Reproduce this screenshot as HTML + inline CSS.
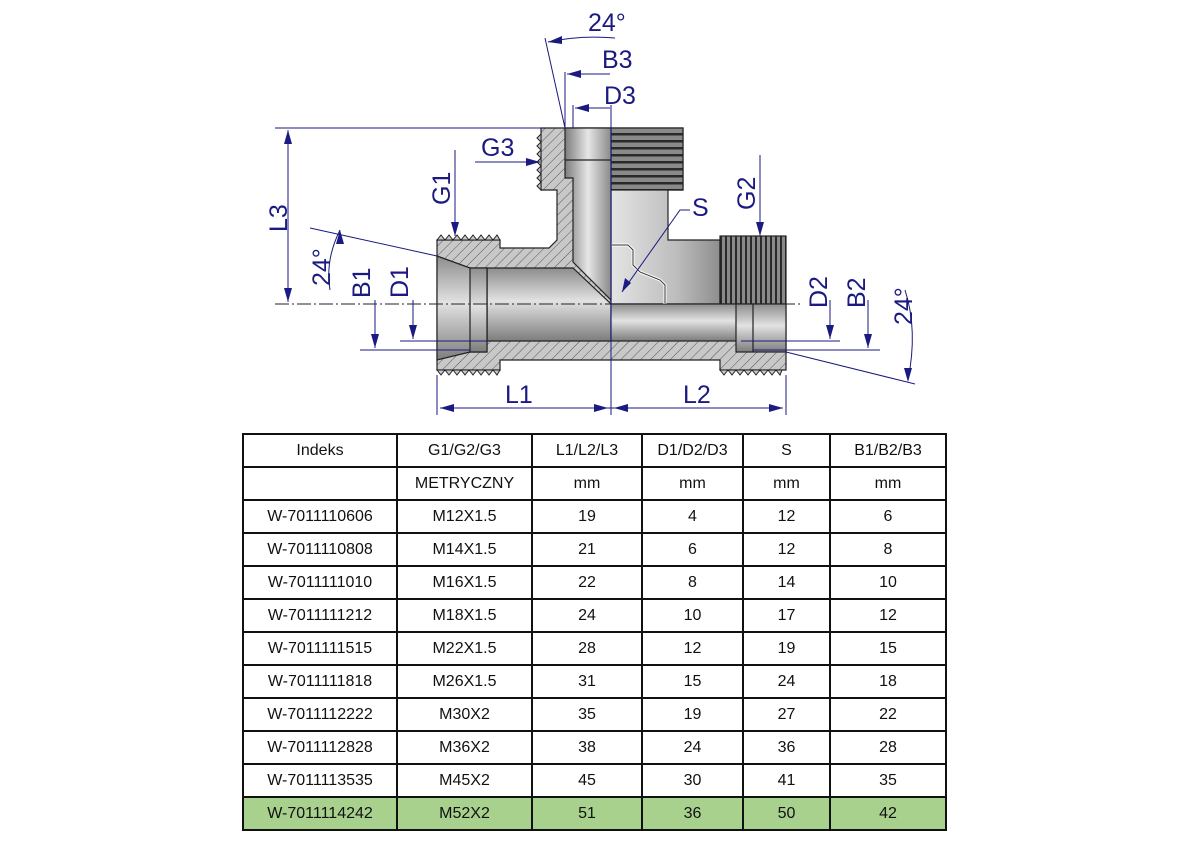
<!DOCTYPE html>
<html><head><meta charset="utf-8"><style>
html,body{margin:0;padding:0;background:#fff;width:1191px;height:842px;overflow:hidden;position:relative;font-family:"Liberation Sans",sans-serif}
svg{position:absolute;left:0;top:0}
table{position:absolute;left:242px;top:433px;border-collapse:collapse;font-size:16px;color:#111}
td{border:2px solid #111;height:31px;padding:0;text-align:center;vertical-align:middle}
tr.g td{background:#a9d18e}
</style></head><body>
<svg width="1191" height="430" viewBox="0 0 1191 430">
<defs>
<pattern id="h" width="7" height="7" patternUnits="userSpaceOnUse" patternTransform="rotate(45)">
<rect width="7" height="7" fill="#c8c8c8"/><line x1="0" y1="0" x2="0" y2="7" stroke="#555" stroke-width="1"/></pattern>
<pattern id="tv" width="5" height="10" patternUnits="userSpaceOnUse">
<rect width="5" height="10" fill="#8a8a8a"/><rect width="2" height="10" fill="#2a2a2a"/></pattern>
<pattern id="thz" width="10" height="7" patternUnits="userSpaceOnUse">
<rect width="10" height="7" fill="#8a8a8a"/><rect width="10" height="2.5" fill="#2a2a2a"/></pattern>
<linearGradient id="bv" x1="0" y1="0" x2="0" y2="1"><stop offset="0" stop-color="#8d8d8d"/><stop offset=".45" stop-color="#e2e2e2"/><stop offset="1" stop-color="#7d7d7d"/></linearGradient>
<linearGradient id="bh" x1="0" y1="0" x2="1" y2="0"><stop offset="0" stop-color="#7d7d7d"/><stop offset=".5" stop-color="#e6e6e6"/><stop offset="1" stop-color="#8a8a8a"/></linearGradient>
<linearGradient id="ex" x1="0" y1="0" x2="1" y2="0"><stop offset="0" stop-color="#e4e4e4"/><stop offset=".6" stop-color="#bdbdbd"/><stop offset="1" stop-color="#8e8e8e"/></linearGradient>
</defs>
<g stroke="#222" stroke-width="1.2">
<polygon points="437,240 500,240 500,248 549,248 557,240 557,190 541,190 541,128 611,128 611,304 437,304" fill="url(#h)"/>
<polygon points="437,304 786,304 786,370 720,370 720,360 500,360 500,370 437,370" fill="url(#h)"/>
<polygon points="611,128 683,128 683,190 668,190 668,240 720,240 720,304 611,304" fill="url(#ex)"/>
<rect x="611" y="128" width="72" height="62" fill="url(#thz)"/>
<rect x="720" y="236" width="66" height="68" fill="url(#tv)"/>
<polygon points="565,128 611,128 611,300 573,262 573,178 565,178" fill="url(#bh)"/>
<line x1="565" y1="160" x2="611" y2="160"/>
<polygon points="487,268 573,268 611,304 611,341 487,341" fill="url(#bv)"/>
<rect x="611" y="304" width="130" height="37" fill="url(#bv)"/>
<polygon points="437,256 470,268 487,268 487,352 470,352 437,360" fill="url(#bv)"/>
<rect x="470" y="268" width="17" height="84" fill="url(#bv)"/>
<rect x="736" y="304" width="50" height="48" fill="url(#bv)"/>
<line x1="753" y1="304" x2="753" y2="352"/>
<polyline points="611,245 628,245 633,250 633,265 640,272 660,280 665,285 665,304" fill="none" stroke="#fff" stroke-width="3"/>
<polyline points="611,245 628,245 633,250 633,265 640,272 660,280 665,285 665,304" fill="none" stroke="#333" stroke-width="1"/>
</g>
<g fill="#c8c8c8" stroke="#222" stroke-width="1">
<path d="M437,240 l4,-5 l4,5 l4,-5 l4,5 l4,-5 l4,5 l4,-5 l4,5 l4,-5 l4,5 l4,-5 l4,5 l4,-5 l4,5 l4,-5 l3,5z"/>
<path d="M437,370 l4,5 l4,-5 l4,5 l4,-5 l4,5 l4,-5 l4,5 l4,-5 l4,5 l4,-5 l4,5 l4,-5 l4,5 l4,-5 l4,5 l3,-5z"/>
<path d="M720,370 l4,5 l4,-5 l4,5 l4,-5 l4,5 l4,-5 l4,5 l4,-5 l4,5 l4,-5 l4,5 l4,-5 l4,5 l4,-5 l4,5 l2,-5z"/>
<path d="M541,134 l-4,4 l4,4 l-4,4 l4,4 l-4,4 l4,4 l-4,4 l4,4 l-4,4 l4,4 l-4,4 l4,4 l-4,4 l4,4z"/>
</g>
<g stroke="#223" stroke-width="1" fill="none">
<line x1="611" y1="105" x2="611" y2="415" stroke="#1a1a80"/>
<line x1="275" y1="304" x2="800" y2="304" stroke-dasharray="14,3,2,3"/>
</g>
<g stroke="#1a1a80" stroke-width="1" fill="none">
<line x1="275" y1="128" x2="541" y2="128"/>
<line x1="288" y1="130" x2="288" y2="302"/>
<line x1="437" y1="375" x2="437" y2="415"/><line x1="786" y1="375" x2="786" y2="415"/>
<line x1="440" y1="408" x2="783" y2="408"/>
<line x1="360" y1="350" x2="470" y2="350"/><line x1="400" y1="341" x2="487" y2="341"/>
<line x1="375" y1="300" x2="375" y2="348"/><line x1="413" y1="300" x2="413" y2="339"/>
<line x1="753" y1="350" x2="880" y2="350"/><line x1="741" y1="341" x2="840" y2="341"/>
<line x1="830" y1="300" x2="830" y2="339"/><line x1="868" y1="300" x2="868" y2="348"/>
<line x1="455" y1="150" x2="455" y2="236"/><line x1="760" y1="155" x2="760" y2="236"/>
<line x1="475" y1="162" x2="540" y2="162"/>
<line x1="565" y1="72" x2="565" y2="128"/><line x1="567" y1="74" x2="610" y2="74"/>
<line x1="573" y1="105" x2="573" y2="128"/><line x1="575" y1="108" x2="610" y2="108"/>
<line x1="545" y1="38" x2="565" y2="128"/><path d="M548,42 Q580,35 615,38"/>
<line x1="310" y1="228" x2="437" y2="256"/><path d="M340,230 Q325,260 330,290"/>
<line x1="786" y1="352" x2="915" y2="384"/><path d="M905,290 Q918,330 908,380"/>
<polyline points="690,210 680,210 622,292"/>
</g>
<g fill="#1a1a80">
<path d="M288,130 l-4,14 h8z"/><path d="M288,302 l-4,-14 h8z"/>
<path d="M440,408 l14,-4 v8z"/><path d="M608,408 l-14,-4 v8z"/><path d="M614,408 l14,-4 v8z"/><path d="M783,408 l-14,-4 v8z"/>
<path d="M375,348 l-4,-14 h8z"/><path d="M413,339 l-4,-14 h8z"/><path d="M830,339 l-4,-14 h8z"/><path d="M868,348 l-4,-14 h8z"/>
<path d="M455,236 l-4,-14 h8z"/><path d="M760,236 l-4,-14 h8z"/><path d="M540,162 l-14,-4 v8z"/>
<path d="M567,74 l14,-4 v8z"/><path d="M575,108 l14,-4 v8z"/><path d="M548,42 l14,-6 v8z"/>
<path d="M340,230 l-4,14 h8z"/><path d="M908,382 l-4,-14 h8z"/><path d="M622,292 l3,-14 l6,5z"/>
</g>
<g fill="#1a1a80" font-family="Liberation Sans,sans-serif" font-size="25">
<text x="588" y="31">24°</text><text x="602" y="68">B3</text><text x="604" y="104">D3</text>
<text x="481" y="156">G3</text><text x="692" y="216">S</text>
<text x="505" y="403">L1</text><text x="683" y="403">L2</text>
<text transform="translate(450,205) rotate(-90)">G1</text>
<text transform="translate(755,210) rotate(-90)">G2</text>
<text transform="translate(287,232) rotate(-90)">L3</text>
<text transform="translate(330,286) rotate(-90)">24°</text>
<text transform="translate(370,298) rotate(-90)">B1</text>
<text transform="translate(408,298) rotate(-90)">D1</text>
<text transform="translate(827,308) rotate(-90)">D2</text>
<text transform="translate(865,308) rotate(-90)">B2</text>
<text transform="translate(912,325) rotate(-90)">24°</text>
</g>
</svg>
<table>
<colgroup><col style="width:154px"><col style="width:135px"><col style="width:110px"><col style="width:101px"><col style="width:87px"><col style="width:116px"></colgroup>
<tr><td>Indeks</td><td>G1/G2/G3</td><td>L1/L2/L3</td><td>D1/D2/D3</td><td>S</td><td>B1/B2/B3</td></tr>
<tr><td></td><td>METRYCZNY</td><td>mm</td><td>mm</td><td>mm</td><td>mm</td></tr>
<tr><td>W-7011110606</td><td>M12X1.5</td><td>19</td><td>4</td><td>12</td><td>6</td></tr>
<tr><td>W-7011110808</td><td>M14X1.5</td><td>21</td><td>6</td><td>12</td><td>8</td></tr>
<tr><td>W-7011111010</td><td>M16X1.5</td><td>22</td><td>8</td><td>14</td><td>10</td></tr>
<tr><td>W-7011111212</td><td>M18X1.5</td><td>24</td><td>10</td><td>17</td><td>12</td></tr>
<tr><td>W-7011111515</td><td>M22X1.5</td><td>28</td><td>12</td><td>19</td><td>15</td></tr>
<tr><td>W-7011111818</td><td>M26X1.5</td><td>31</td><td>15</td><td>24</td><td>18</td></tr>
<tr><td>W-7011112222</td><td>M30X2</td><td>35</td><td>19</td><td>27</td><td>22</td></tr>
<tr><td>W-7011112828</td><td>M36X2</td><td>38</td><td>24</td><td>36</td><td>28</td></tr>
<tr><td>W-7011113535</td><td>M45X2</td><td>45</td><td>30</td><td>41</td><td>35</td></tr>
<tr class="g"><td>W-7011114242</td><td>M52X2</td><td>51</td><td>36</td><td>50</td><td>42</td></tr>
</table>
</body></html>
